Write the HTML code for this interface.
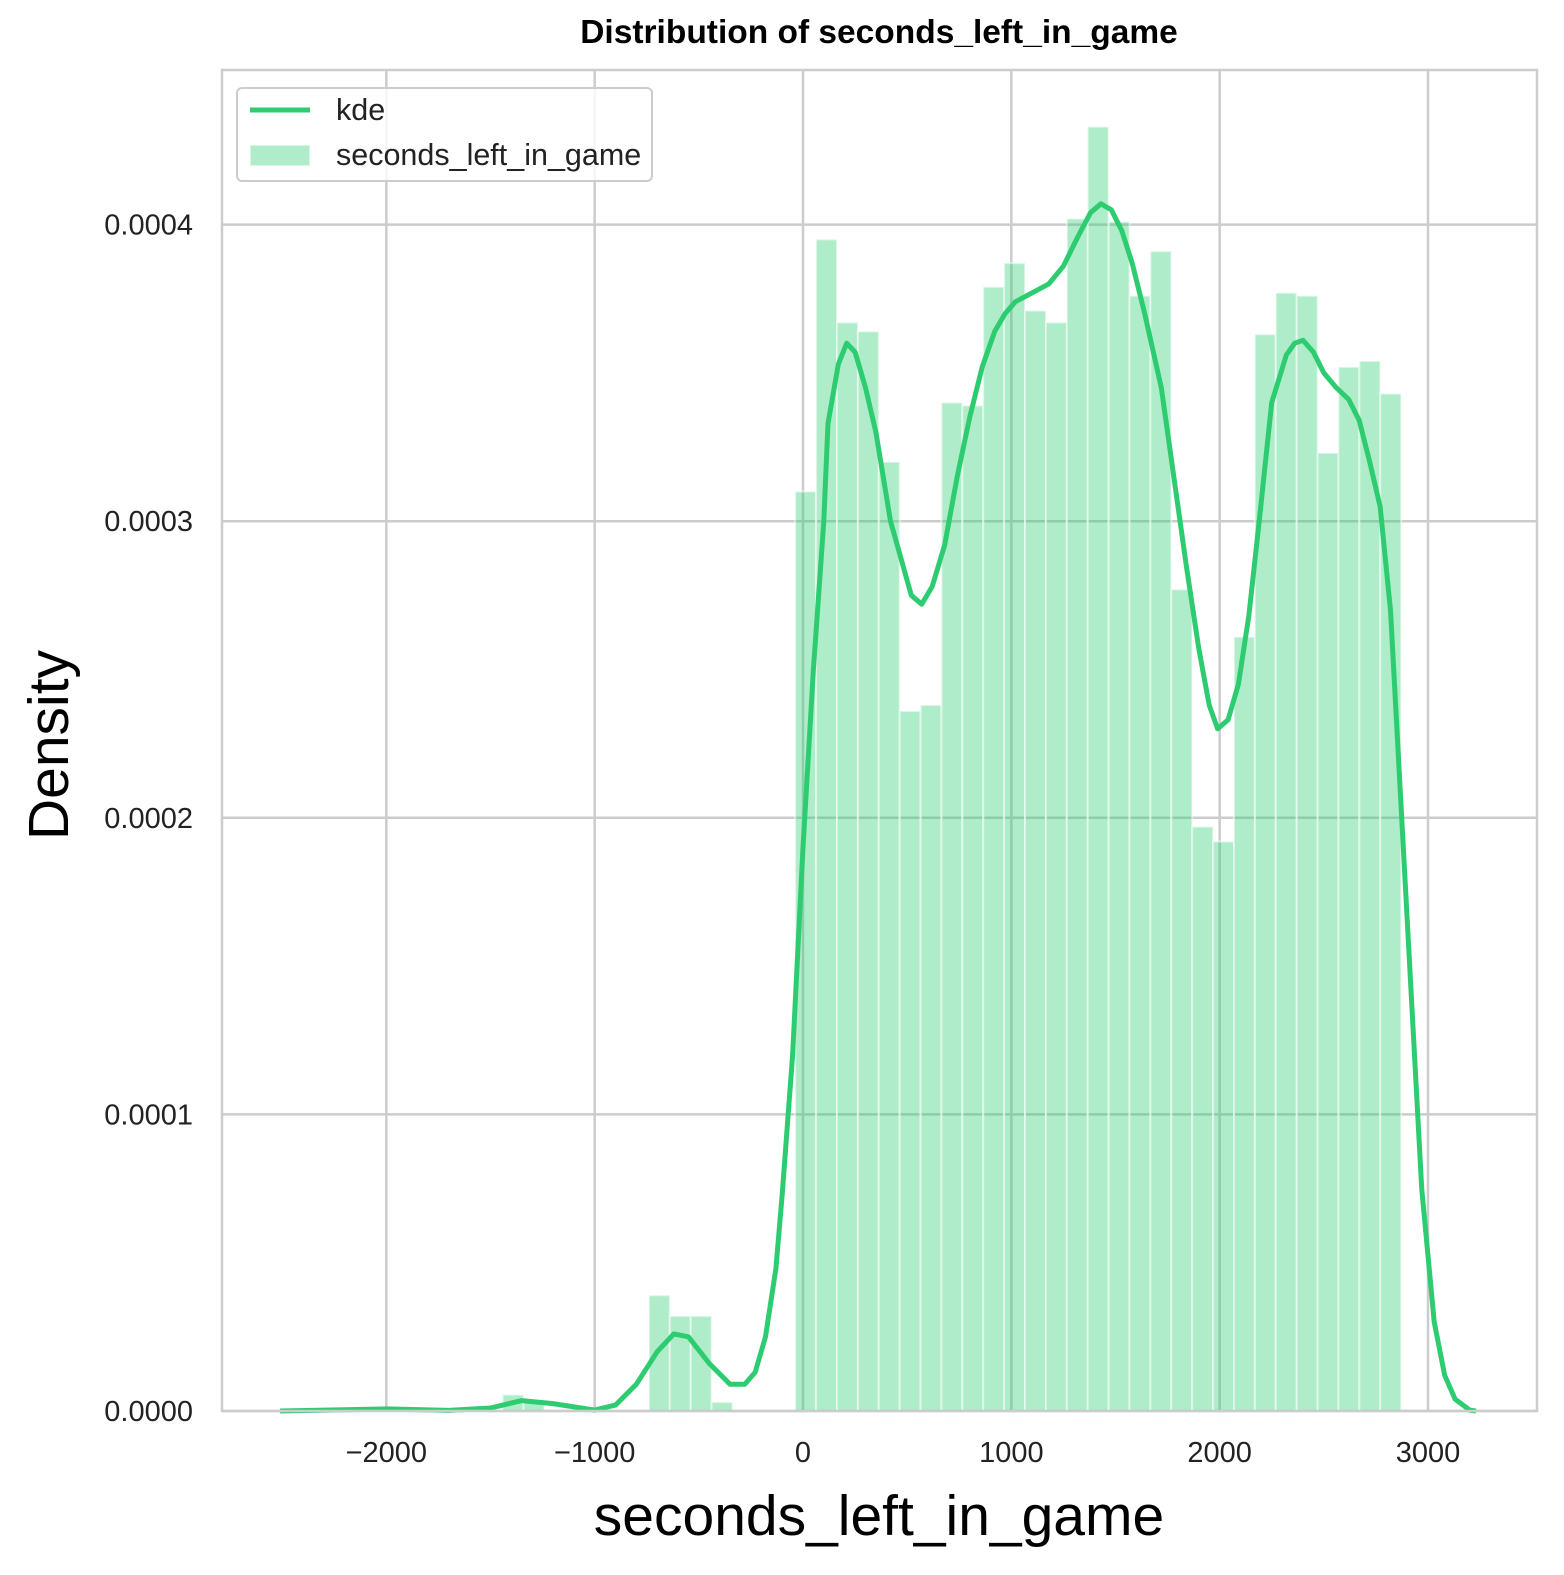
<!DOCTYPE html>
<html><head><meta charset="utf-8"><style>
body{margin:0;background:#fff}
svg text{font-family:"Liberation Sans",Arial,sans-serif}
</style></head><body>
<svg id="chart" width="1564" height="1570" viewBox="0 0 1564 1570" xmlns="http://www.w3.org/2000/svg">
<rect width="1564" height="1570" fill="#fff"/>
<g id="grid"></g>
<g id="bars"></g>
<path id="kde" fill="none" stroke="#2ecc71" stroke-width="5" stroke-linejoin="round"/>
<rect x="222" y="70" width="1315" height="1341" fill="none" stroke="#cccccc" stroke-width="2.5"/>
<g id="ticks"></g>
<text x="879" y="43" text-anchor="middle" font-size="33.5" font-weight="bold" fill="#000">Distribution of seconds_left_in_game</text>
<text x="879" y="1535" text-anchor="middle" font-size="57" fill="#000">seconds_left_in_game</text>
<text transform="translate(68,745) rotate(-90)" text-anchor="middle" font-size="57" fill="#000">Density</text>
<g>
<rect x="237" y="88" width="415" height="93" rx="5" fill="#fff" fill-opacity="0.8" stroke="#cccccc" stroke-width="2"/>
<line x1="250" y1="110" x2="310" y2="110" stroke="#2ecc71" stroke-width="5"/>
<text x="336" y="120" font-size="30.5" fill="#222">kde</text>
<rect x="250" y="145" width="60" height="21" fill="rgba(46,204,113,0.38)" stroke="rgba(255,255,255,0.5)" stroke-width="2"/>
<text x="336" y="165" font-size="30.5" fill="#222">seconds_left_in_game</text>
</g>
</svg>
<script>
const xTicks=[-2000,-1000,0,1000,2000,3000];
const xTickLabels=["\u22122000","\u22121000","0","1000","2000","3000"];
const yTicks=[0,0.0001,0.0002,0.0003,0.0004];
const yTickLabels=["0.0000","0.0001","0.0002","0.0003","0.0004"];
const binStart=-2545;
const binWidth=100.3;
const binValues=[0,0,0,0,0,0,0,0,0,0,0,0.0000055,0.000003,0,0,0,0,0,0.000039,0.000032,0.000032,0.000003,0,0,0,
0.00031,0.000395,0.000367,0.000364,0.00032,0.000236,0.000238,0.00034,0.000339,0.000379,0.000387,0.000371,0.000367,0.000402,0.000433,0.000401,0.000376,0.000391,0.000277,0.000197,0.000192,0.000261,0.000363,0.000377,0.000376,0.000323,0.000352,0.000354,0.000343];
const kdeX=[-2510,-2000,-1700,-1500,-1350,-1200,-1000,-900,-800,-700,-620,-550,-450,-350,-280,-230,-180,-130,-100,-50,0,50,100,120,170,210,250,300,350,420,480,520,570,620,680,740,800,860,920,970,1020,1100,1180,1250,1320,1380,1430,1480,1530,1580,1640,1720,1780,1840,1900,1950,1990,2040,2090,2140,2190,2250,2320,2360,2400,2450,2500,2560,2620,2670,2720,2770,2820,2870,2920,2970,3030,3080,3130,3200,3230];
const kdeY=[0,0.0000007,0.0000002,0.000001,0.0000035,0.0000025,0.0000003,0.000002,0.000009,0.00002,0.000026,0.000025,0.000016,0.000009,0.000009,0.000013,0.000025,0.000048,0.000073,0.00012,0.00019,0.00025,0.0003,0.000333,0.000353,0.00036,0.000357,0.000345,0.00033,0.0003,0.000285,0.000275,0.000272,0.000278,0.000292,0.000315,0.000335,0.000352,0.000364,0.00037,0.000374,0.000377,0.00038,0.000386,0.000396,0.000404,0.000407,0.000405,0.000398,0.000387,0.00037,0.000345,0.000315,0.000285,0.000257,0.000238,0.00023,0.000233,0.000245,0.000268,0.0003,0.00034,0.000356,0.00036,0.000361,0.000357,0.00035,0.000345,0.000341,0.000334,0.00032,0.000305,0.00027,0.000205,0.00014,0.000075,0.00003,0.000012,0.000004,0.0000003,0];
const NS="http://www.w3.org/2000/svg";
const sx=v=>803+v*0.20833;
const sy=v=>1411-v*2966000;
const grid=document.getElementById('grid'),ticks=document.getElementById('ticks'),bars=document.getElementById('bars');
function mk(tag,attrs,parent){const e=document.createElementNS(NS,tag);for(const k in attrs)e.setAttribute(k,attrs[k]);parent.appendChild(e);return e;}
xTicks.forEach((t,i)=>{
 const l=mk('line',{x1:sx(t),x2:sx(t),y1:70,y2:1411,stroke:'#cccccc','stroke-width':2.5},grid);
 
 
 const tx=mk('text',{x:sx(t),y:1462,'text-anchor':'middle','font-size':29,fill:'#222'},ticks);
 tx.textContent=xTickLabels[i];
 
 
});
yTicks.forEach((t,i)=>{
 const l=mk('line',{x1:222,x2:1537,y1:sy(t),y2:sy(t),stroke:'#cccccc','stroke-width':2.5},grid);
 
 
 const tx=mk('text',{x:193,y:sy(t)+10,'text-anchor':'end','font-size':29,fill:'#222'},ticks);
 tx.textContent=yTickLabels[i];
 
 
});
binValues.forEach((v,i)=>{
 if(v<=0)return;
 const x0=sx(binStart+i*binWidth),x1=sx(binStart+(i+1)*binWidth);
 const r=mk('rect',{x:x0,y:sy(v),width:x1-x0,height:1411-sy(v),fill:'rgba(46,204,113,0.38)',stroke:'rgba(255,255,255,0.5)','stroke-width':2},bars);
 
 
});
document.getElementById('kde').setAttribute('d',kdeX.map((x,i)=>(i?'L':'M')+sx(x).toFixed(1)+','+sy(kdeY[i]).toFixed(1)).join(''));
</script>
</body></html>
